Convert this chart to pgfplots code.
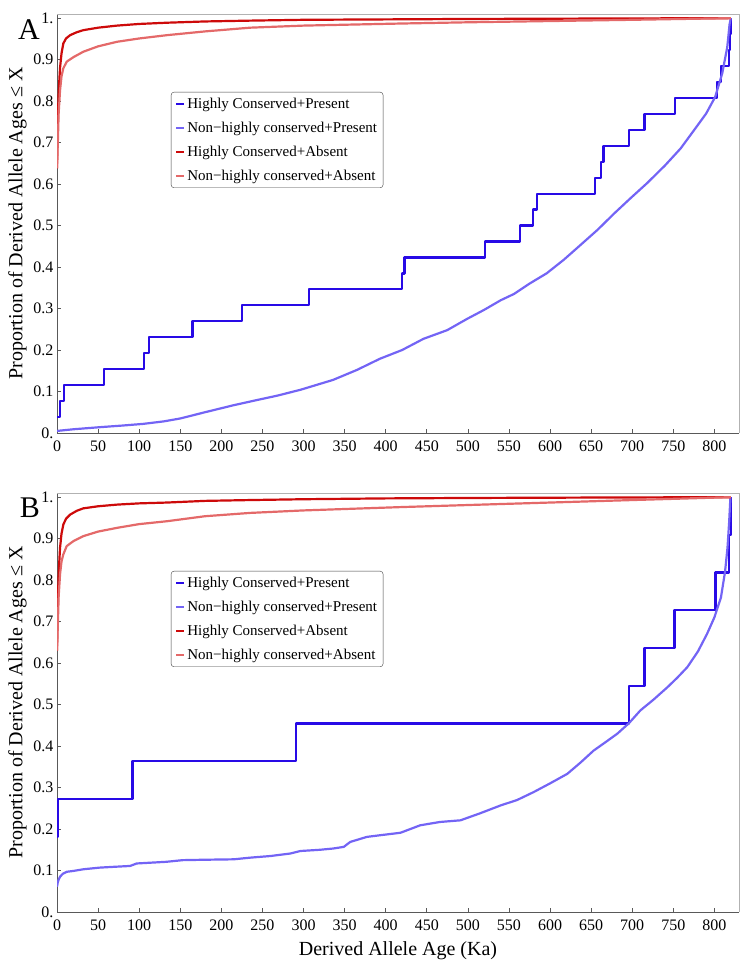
\documentclass[border=0pt]{standalone}
\usepackage{fontspec}
\setmainfont{Liberation Serif}
\usepackage{pgfplots}
\pgfplotsset{compat=1.18}

\definecolor{hcP}{RGB}{40,10,230}
\definecolor{nhP}{RGB}{115,100,245}
\definecolor{hcA}{RGB}{205,10,10}
\definecolor{nhA}{RGB}{228,105,105}

\pgfplotsset{
  cdfpanel/.style={
    width=682pt, height=419pt, scale only axis,
    xmin=0, xmax=830, ymin=0, ymax=1.01,
    xtick={0,50,...,800},
    ytick={0,0.1,0.2,0.3,0.4,0.5,0.6,0.7,0.8,0.9,1},
    yticklabels={0.,0.1,0.2,0.3,0.4,0.5,0.6,0.7,0.8,0.9,1.},
    axis x line*=bottom, axis y line*=left,
    axis line style={black!65, line width=0.8pt},
    tick align=inside, major tick length=4pt,
    tick style={black!65, line width=0.6pt},
    /pgf/number format/assume math mode=true,
    ticklabel style={font=\fontsize{16}{16}\selectfont},
    xticklabel style={yshift=-4pt},
    every axis y label/.style={at={(ticklabel cs:0.5)}, rotate=90,
      anchor=near ticklabel, font=\fontsize{20}{20}\selectfont},
    every axis x label/.style={at={(ticklabel cs:0.5)}, yshift=-4pt,
      anchor=near ticklabel, font=\fontsize{20}{20}\selectfont},
    ylabel={Proportion of Derived Allele Ages ≤ X},
    legend cell align=left,
    legend style={at={(0.167,0.814)}, anchor=north west, draw=black!75,
      rounded corners=3pt, font=\fontsize{15}{15}\selectfont,
      row sep=8pt, inner xsep=4pt, inner ysep=4pt},
    legend image code/.code={\draw[##1, line width=2.2pt] (0pt,0pt) -- (8pt,0pt);},
    every axis plot/.append style={line width=2.2pt, line join=round},
  }
}

\begin{document}
\begin{tikzpicture}
\useasboundingbox (-57pt,-541pt) rectangle (695pt,433pt);

% Panel A
\begin{axis}[cdfpanel, name=A]
\addplot[hcP, const plot] coordinates {
 (0,0.0385) (4,0.0769) (8.5,0.1154) (57,0.1538) (106,0.1923) (112,0.2308)
 (165,0.2692) (225,0.3077) (306.5,0.3462) (420,0.3846) (423,0.4231) (521,0.4615)
 (563,0.5) (579,0.5385) (584,0.5769) (655,0.6154) (662,0.6538) (665,0.6923)
 (696,0.7308) (715,0.7692) (752,0.8077) (803,0.8462) (808,0.8846) (818,0.9231)
 (819,0.9615) (820,1)
};
\addplot[nhP] coordinates {
 (0,0.005) (20,0.009) (52,0.014) (80,0.018) (105,0.022) (130,0.028) (150,0.035)
 (180,0.05) (215,0.067) (240,0.078) (268,0.090) (296,0.104) (336,0.128) (365,0.152)
 (393,0.179) (420,0.2) (446,0.227) (475,0.248) (499,0.275) (520,0.297) (540,0.320)
 (556,0.335) (575,0.36) (596,0.385) (617,0.418) (637,0.453) (658,0.49) (678,0.529)
 (698,0.566) (718,0.602) (740,0.645) (759,0.686) (779,0.74) (790,0.77) (801,0.81)
 (809.6,0.867) (815.7,0.93) (818.5,0.985) (820,1)
};
\addplot[hcA] coordinates {
 (0,0.638) (1,0.75) (2,0.82) (3.7,0.88) (5.5,0.915) (7.7,0.939) (11,0.951) (16,0.959)
 (24,0.966) (32,0.971) (50,0.977) (73,0.982) (100,0.986) (134,0.989) (180,0.992)
 (235,0.994) (300,0.996) (400,0.997) (500,0.998) (650,0.999) (820,1)
};
\addplot[nhA] coordinates {
 (0,0.638) (1,0.7) (2,0.77) (3.7,0.826) (5.5,0.86) (7.7,0.879) (11.8,0.895) (20,0.906)
 (32,0.919) (50,0.932) (73,0.943) (100,0.951) (134,0.959) (180,0.968) (235,0.977)
 (300,0.982) (418,0.987) (500,0.990) (600,0.993) (700,0.996) (820,1)
};
\legend{Highly Conserved+Present, Non−highly conserved+Present,
        Highly Conserved+Absent, Non−highly conserved+Absent}
\end{axis}
\draw[black!30, line width=0.8pt] (A.north west) -- (A.north east) -- (A.south east);
\node[anchor=north east, inner sep=0pt, font=\fontsize{30}{30}\selectfont]
  at ([xshift=-17pt,yshift=-6pt]A.north west) {A};

% Panel B
\begin{axis}[cdfpanel, name=B, at={(0,-479pt)}, xlabel={Derived Allele Age (Ka)}]
\addplot[hcP, const plot] coordinates {
 (0,0.1818) (1.6,0.2727) (91.8,0.3636) (291,0.4545) (696,0.5455) (715,0.6364)
 (751.5,0.7273) (801.5,0.8182) (818,0.9091) (820,1)
};
\addplot[nhP] coordinates {
 (0,0.061) (1,0.072) (2,0.078) (3.7,0.085) (7,0.092) (12,0.097) (20,0.099) (32,0.103)
 (52,0.107) (70,0.109) (89,0.111) (97,0.117) (115,0.119) (133,0.121) (153,0.125)
 (180,0.126) (215,0.127) (235,0.131) (260,0.135) (284,0.141) (296,0.147) (320,0.150)
 (336,0.153) (349,0.157) (357,0.169) (377,0.181) (393,0.185) (418,0.191) (442,0.209)
 (466,0.217) (491,0.221) (515,0.238) (540,0.257) (560,0.27) (580,0.289) (600,0.31)
 (621,0.333) (637,0.36) (653,0.389) (668,0.41) (682,0.43) (696,0.455) (710,0.486)
 (726,0.512) (743,0.542) (755,0.565) (767,0.59) (780,0.628) (791,0.67) (800,0.71)
 (808,0.758) (813,0.82) (816,0.878) (818,0.94) (819.5,0.998) (820,1)
};
\addplot[hcA] coordinates {
 (0,0.63) (1,0.74) (2,0.815) (3.7,0.878) (5.5,0.912) (7.7,0.934) (11,0.948) (16,0.958)
 (24,0.967) (32,0.973) (50,0.978) (73,0.982) (100,0.985) (134,0.987) (180,0.991)
 (235,0.993) (300,0.995) (400,0.997) (500,0.998) (650,0.999) (820,1)
};
\addplot[nhA] coordinates {
 (0,0.63) (1,0.69) (2,0.76) (3.7,0.814) (5.5,0.845) (7.7,0.862) (11.8,0.882) (20,0.894)
 (32,0.906) (50,0.917) (73,0.926) (100,0.935) (134,0.942) (180,0.954) (235,0.962)
 (300,0.968) (418,0.976) (500,0.981) (600,0.987) (700,0.993) (820,1)
};
\legend{Highly Conserved+Present, Non−highly conserved+Present,
        Highly Conserved+Absent, Non−highly conserved+Absent}
\end{axis}
\draw[black!30, line width=0.8pt] (B.north west) -- (B.north east) -- (B.south east);
\node[anchor=north east, inner sep=0pt, font=\fontsize{30}{30}\selectfont]
  at ([xshift=-17pt,yshift=-5pt]B.north west) {B};
\end{tikzpicture}
\end{document}
